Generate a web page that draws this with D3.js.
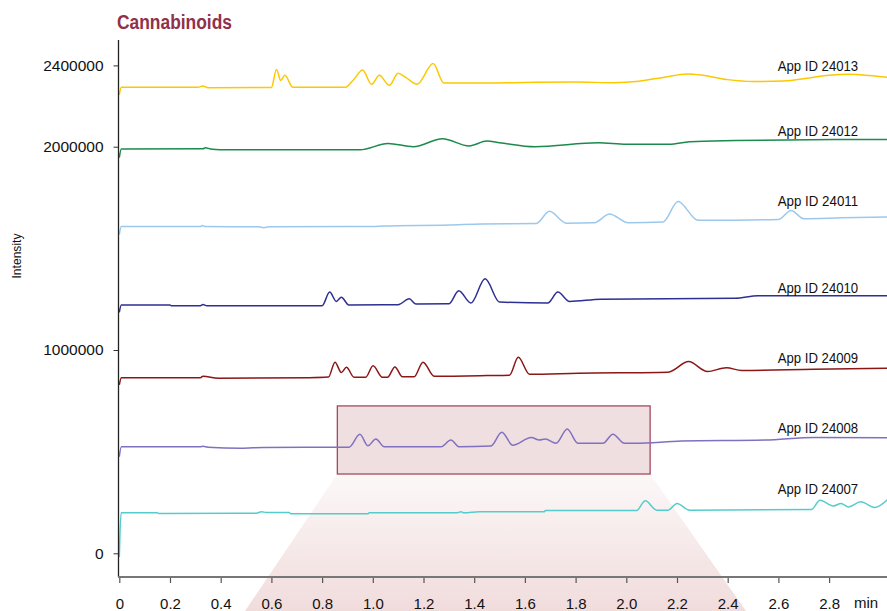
<!DOCTYPE html>
<html><head><meta charset="utf-8">
<script src="https://cdn.jsdelivr.net/npm/d3@7"></script>
<style>body{margin:0;background:#fff}svg{display:block}</style>
</head><body><svg id="chart" width="887" height="611"></svg>
<script>
// ---------- DATA ----------
const chartTitle = "Cannabinoids";
const yAxisTitle = "Intensity";
const xAxisUnit = "min";
const seriesNames = ["App ID 24013","App ID 24012","App ID 24011","App ID 24010","App ID 24009","App ID 24008","App ID 24007"];
const seriesColors = ["#fcc800","#1b8a4c","#9cc8ec","#2d2f92","#8c1616","#8070c0","#55cccc"];
const yTickValues = [0, 1000000, 2000000, 2400000];
const xTickValues = [0,0.2,0.4,0.6,0.8,1.0,1.2,1.4,1.6,1.8,2.0,2.2,2.4,2.6,2.8];

// [time (min), intensity]
const app24013 = [[0,2255e3],[0.008,2292e3],[0.31,2292e3],[0.33,2299e3],[0.35,2290e3],[0.60,2291e3],[0.62,2380e3],[0.637,2326e3],[0.653,2351e3],[0.685,2292e3],[0.89,2292e3],[0.925,2331e3],[0.96,2377e3],[0.995,2307e3],[1.026,2351e3],[1.065,2302e3],[1.10,2361e3],[1.13,2341e3],[1.175,2307e3],[1.238,2409e3],[1.28,2313e3],[1.40,2313e3],[1.60,2316e3],[1.80,2318e3],[1.95,2315e3],[2.05,2322e3],[2.15,2342e3],[2.24,2358e3],[2.30,2352e3],[2.40,2330e3],[2.50,2321e3],[2.62,2323e3],[2.72,2338e3],[2.80,2352e3],[2.88,2357e3],[2.96,2350e3],[3.03,2341e3]];
const app24012 = [[0,1946e3],[0.008,1989e3],[0.33,1990e3],[0.34,1995e3],[0.36,1989e3],[0.40,1985e3],[0.95,1985e3],[1.06,2016e3],[1.16,2000e3],[1.275,2039e3],[1.38,2004e3],[1.45,2028e3],[1.50,2020e3],[1.64,2000e3],[1.89,2019e3],[2.0,2012e3],[2.17,2012e3],[2.25,2025e3],[2.43,2030e3],[2.88,2035e3],[3.03,2035e3]];
const app24011 = [[0,1567e3],[0.008,1607e3],[0.32,1607e3],[0.327,1612e3],[0.34,1607e3],[0.55,1606e3],[0.57,1602e3],[0.59,1606e3],[1.0,1608e3],[1.04,1610e3],[1.3,1615e3],[1.43,1620e3],[1.644,1622e3],[1.697,1682e3],[1.763,1624e3],[1.874,1626e3],[1.934,1669e3],[2.008,1626e3],[2.145,1630e3],[2.204,1731e3],[2.283,1638e3],[2.32,1638e3],[2.60,1642e3],[2.65,1686e3],[2.70,1646e3],[2.85,1650e3],[3.03,1654e3]];
const app24010 = [[0,1185e3],[0.008,1221e3],[0.20,1221e3],[0.205,1218e3],[0.32,1218e3],[0.33,1224e3],[0.345,1218e3],[0.80,1218e3],[0.83,1285e3],[0.856,1239e3],[0.876,1260e3],[0.905,1222e3],[1.10,1223e3],[1.144,1252e3],[1.17,1226e3],[1.30,1227e3],[1.339,1291e3],[1.387,1231e3],[1.443,1350e3],[1.50,1236e3],[1.69,1231e3],[1.73,1285e3],[1.776,1239e3],[1.9,1250e3],[2.43,1255e3],[2.52,1267e3],[3.03,1267e3]];
const app24009 = [[0,828e3],[0.008,864e3],[0.32,864e3],[0.33,871e3],[0.39,861e3],[0.75,864e3],[0.825,867e3],[0.851,940e3],[0.876,889e3],[0.896,915e3],[0.926,866e3],[0.972,866e3],[1.001,922e3],[1.038,866e3],[1.058,866e3],[1.087,917e3],[1.117,868e3],[1.163,868e3],[1.198,940e3],[1.242,871e3],[1.45,874e3],[1.539,876e3],[1.574,964e3],[1.618,881e3],[1.81,886e3],[2.165,891e3],[2.246,943e3],[2.32,894e3],[2.395,913e3],[2.455,899e3],[2.74,905e3],[3.03,910e3]];
const app24008 = [[0,475e3],[0.008,524e3],[0.32,524e3],[0.33,527e3],[0.35,522e3],[0.48,517e3],[0.57,521e3],[0.906,522e3],[0.949,585e3],[0.981,529e3],[1.012,562e3],[1.045,524e3],[1.269,524e3],[1.308,557e3],[1.341,524e3],[1.466,528e3],[1.509,595e3],[1.552,532e3],[1.625,570e3],[1.657,557e3],[1.68,562e3],[1.723,541e3],[1.767,611e3],[1.809,541e3],[1.908,541e3],[1.947,586e3],[1.993,541e3],[2.033,541e3],[2.217,552e3],[2.547,557e3],[2.744,570e3],[3.03,568e3]];
const app24007 = [[0,-18e3],[0.007,199e3],[0.15,199e3],[0.155,196e3],[0.54,197e3],[0.561,204e3],[0.58,201e3],[0.67,201e3],[0.676,194e3],[0.98,194e3],[0.986,199e3],[1.33,199e3],[1.348,204e3],[1.36,199e3],[1.42,204e3],[1.677,204e3],[1.68,210e3],[2.04,210e3],[2.075,258e3],[2.12,212e3],[2.165,212e3],[2.2,245e3],[2.25,212e3],[2.73,215e3],[2.764,261e3],[2.817,233e3],[2.847,245e3],[2.876,228e3],[2.925,253e3],[2.98,225e3],[3.035,270e3]];
const seriesData = [app24013, app24012, app24011, app24010, app24009, app24008, app24007];
// label anchor intensity for each series (text baseline)
const labelIntensity = [2372e3, 2051e3, 1707e3, 1278e3, 937e3, 591e3, 291e3];

// highlighted zoom window
const zoomTime = [0.86, 2.094];
const zoomIntensity = [390e3, 725e3];
const fanBottomTime = [0.496, 2.472];

// ---------- CHART ----------
const svg = d3.select("#chart");
const x = d3.scaleLinear().domain([0, 3.03]).range([119.3, 887.4]);
const y = d3.scaleLinear().domain([0, 2400000]).range([553.3, 65.4]);
const axisY = 577, axisTop = 40, H = 611;

const defs = svg.append("defs");
const grad = defs.append("linearGradient").attr("id","fan").attr("x1",0).attr("y1",0).attr("x2",0).attr("y2",1);
grad.append("stop").attr("offset","0%").attr("stop-color","#fcf8f8");
grad.append("stop").attr("offset","100%").attr("stop-color","#f1dcdc");

const bx0 = x(zoomTime[0]), bx1 = x(zoomTime[1]);
const byTop = y(zoomIntensity[1]), byBot = y(zoomIntensity[0]);
svg.append("path")
  .attr("d", `M${bx0},${byBot}L${bx1},${byBot}L${x(fanBottomTime[1])},${H}L${x(fanBottomTime[0])},${H}Z`)
  .attr("fill","url(#fan)");
svg.append("rect")
  .attr("x", bx0).attr("y", byTop).attr("width", bx1-bx0).attr("height", byBot-byTop)
  .attr("fill","#f0dfe0").attr("stroke","#9c3c54").attr("stroke-width",1.2);

const line = d3.line().x(d=>x(d[0])).y(d=>y(d[1])).curve(d3.curveMonotoneX);
svg.append("g").selectAll("path").data(seriesData).join("path")
  .attr("d", line).attr("fill","none")
  .attr("stroke",(d,i)=>seriesColors[i]).attr("stroke-width",1.5)
  .attr("stroke-linejoin","round");

// Y axis
const yg = svg.append("g").attr("transform","translate(118.5,0)")
  .call(d3.axisLeft(y).tickValues(yTickValues).tickFormat(d3.format("d")).tickSize(5).tickPadding(10));
yg.select(".domain").remove();
yg.selectAll(".tick line").attr("stroke","#333");
yg.selectAll(".tick text").attr("font-family","'Liberation Sans', Arial, sans-serif").attr("font-size",15.5).attr("fill","#111");
svg.append("line").attr("x1",118.5).attr("x2",118.5).attr("y1",axisTop).attr("y2",axisY)
  .attr("stroke","#222").attr("stroke-width",1.3);

// X axis
const xg = svg.append("g").attr("transform",`translate(0,${axisY})`)
  .call(d3.axisBottom(x).tickValues(xTickValues).tickFormat(d=> d===0 ? "0" : d3.format(".1f")(d)).tickSize(6).tickPadding(15));
xg.select(".domain").remove();
xg.selectAll(".tick line").attr("stroke","#555").attr("stroke-width",1.2);
xg.selectAll(".tick text").attr("font-family","'Liberation Sans Narrow','Liberation Sans', Arial, sans-serif").attr("font-size",15).attr("fill","#111");
svg.append("line").attr("x1",118).attr("x2",887).attr("y1",axisY).attr("y2",axisY)
  .attr("stroke","#777").attr("stroke-width",2);
svg.append("text").attr("x",866).attr("y",608.3).attr("text-anchor","middle")
  .attr("font-family","'Liberation Sans Narrow','Liberation Sans', Arial, sans-serif").attr("font-size",15).attr("fill","#111")
  .text(xAxisUnit);

// Title
svg.append("text").attr("x",117).attr("y",29.3)
  .attr("font-family","'Liberation Sans Narrow','Liberation Sans', Arial, sans-serif").attr("font-weight","bold")
  .attr("font-size",20).attr("fill","#91304a")
  .attr("textLength",115).attr("lengthAdjust","spacingAndGlyphs").text(chartTitle);

// Y title
svg.append("text").attr("transform","translate(20.5,256) rotate(-90)").attr("text-anchor","middle")
  .attr("font-family","'Liberation Sans Narrow','Liberation Sans', Arial, sans-serif").attr("font-size",13).attr("fill","#111")
  .attr("textLength",45).attr("lengthAdjust","spacingAndGlyphs").text(yAxisTitle);

// Series labels
svg.append("g").selectAll("text").data(seriesNames).join("text")
  .attr("x",777.7).attr("y",(d,i)=>y(labelIntensity[i]))
  .attr("font-family","'Liberation Sans Narrow','Liberation Sans', Arial, sans-serif").attr("font-size",15).attr("fill","#111")
  .attr("textLength",80.5).attr("lengthAdjust","spacingAndGlyphs").text(d=>d);
</script></body></html>
